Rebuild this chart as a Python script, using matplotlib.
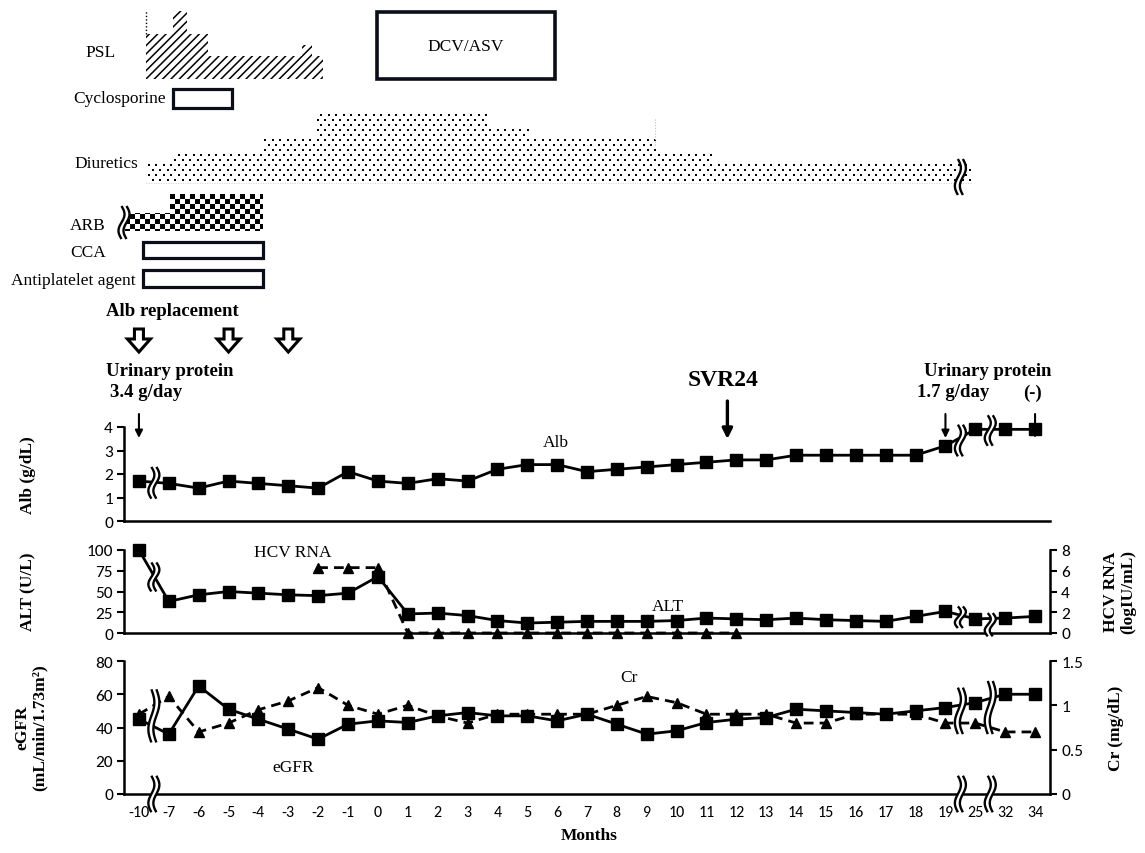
import numpy as np
import matplotlib
matplotlib.use("Agg")
import matplotlib.pyplot as plt
from matplotlib import font_manager
from matplotlib.patches import Polygon, Rectangle
from matplotlib.path import Path

# ------------------------------------------------------------------ data
month_labels = ['-10', '-7', '-6', '-5', '-4', '-3', '-2', '-1', '0',
                '1', '2', '3', '4', '5', '6', '7', '8', '9', '10',
                '11', '12', '13', '14', '15', '16', '17', '18', '19',
                '25', '32', '34']

alb = [1.7, 1.6, 1.4, 1.7, 1.6, 1.5, 1.4, 2.1, 1.7,
       1.6, 1.8, 1.7, 2.2, 2.4, 2.4, 2.1, 2.2, 2.3, 2.4,
       2.5, 2.6, 2.6, 2.8, 2.8, 2.8, 2.8, 2.8, 3.2,
       3.9, 3.9, 3.9]

alt = [100, 38, 46, 50, 48, 46, 45, 48, 68,
       23, 24, 21, 15, 12, 13, 14, 14, 14, 15,
       18, 17, 16, 18, 16, 15, 14, 20, 26,
       17, 18, 20]

hcv_months = ['-2', '-1', '0', '1', '2', '3', '4', '5', '6',
              '7', '8', '9', '10', '11', '12']
hcv_rna = [6.3, 6.3, 6.3, 0, 0, 0, 0, 0, 0, 0, 0, 0, 0, 0, 0]

egfr = [45, 36, 65, 51, 45, 39, 33, 42, 44,
        43, 47, 49, 47, 47, 44, 48, 42, 36, 38,
        43, 45, 46, 51, 50, 49, 48, 50, 52,
        55, 60, 60]

cr = [0.9, 1.1, 0.7, 0.8, 0.95, 1.05, 1.2, 1.0, 0.9,
      1.0, 0.88, 0.8, 0.9, 0.9, 0.9, 0.9, 1.0, 1.1, 1.03,
      0.9, 0.9, 0.9, 0.8, 0.8, 0.9, 0.9, 0.9, 0.8,
      0.8, 0.7, 0.7]

# treatment schedule, expressed on the month (category index) axis
psl_edges = [0.24, 1.15, 1.6, 2.3, 5.45, 5.8, 6.15]
psl_dose = [40, 60, 40, 20, 30, 20]          # mg/day
psl_pulse_dose = 60
cyclosporine_span = (1.14, 3.12)
diuretic_edges = [0.24, 1.14, 4.15, 5.93, 11.75, 13.09, 17.28, 19.22, 27.9]
diuretic_dose = [20, 40, 60, 100, 80, 60, 40, 20]
arb_edges = [-0.45, 1.04, 4.15]
arb_dose = [1, 2]
cca_span = (0.14, 4.15)
antiplatelet_span = (0.14, 4.15)
dcv_asv_span = (7.97, 13.93)
alb_replacement_months = ['-10', '-5', '-3']
urinary_protein_months = ['-10', '19', '34']
svr24_position = 19.7

# ------------------------------------------------------------------ fonts
installed = {f.name for f in font_manager.fontManager.ttflist}
SERIF = 'Liberation Serif'
NUM = 'Carlito' if 'Carlito' in installed else 'Lato'
NARROW = 'Liberation Sans Narrow' if 'Liberation Sans Narrow' in installed else NUM

# ------------------------------------------------------------------ layout
W, H, DPI = 1145, 854, 100
fig = plt.figure(figsize=(W / DPI, H / DPI), dpi=DPI)
fig.patch.set_facecolor('white')

X_LEFT, X_RIGHT = 124, 1050
n = len(month_labels)
x = np.arange(n)
XLIM = (-0.5, n - 0.5)
PX_PER_IDX = (X_RIGHT - X_LEFT) / n


def fx(px):
    return px / W


def fy(py):
    return 1 - py / H


def px2idx(px):
    return (px - X_LEFT) / PX_PER_IDX - 0.5


def add_panel(top, bottom):
    ax = fig.add_axes([fx(X_LEFT), fy(bottom), (X_RIGHT - X_LEFT) / W,
                       (bottom - top) / H])
    ax.patch.set_visible(False)
    return ax


ax_s = add_panel(0, 440)       # treatment schedule
ax_alb = add_panel(428, 522)
ax_alt = add_panel(551, 634)
ax_gfr = add_panel(662, 795)
ax_hcv = ax_alt.twinx()
ax_cr = ax_gfr.twinx()

for ax in (ax_s, ax_alb, ax_alt, ax_gfr, ax_hcv, ax_cr):
    ax.set_xlim(*XLIM)
ax_s.set_ylim(440, 0)
ax_s.axis('off')
ax_alb.set_ylim(0, 4)
ax_alt.set_ylim(0, 100)
ax_hcv.set_ylim(0, 8)
ax_gfr.set_ylim(0, 80)
ax_cr.set_ylim(0, 1.5)

SPINE_W = 1.8
for ax in (ax_alb, ax_alt, ax_gfr, ax_hcv, ax_cr):
    for side in ('top', 'left', 'right', 'bottom'):
        ax.spines[side].set_visible(False)
        ax.spines[side].set_linewidth(SPINE_W)
    ax.tick_params(axis='x', length=0)
    ax.tick_params(axis='y', direction='out', length=5, width=1.5,
                   labelsize=12.5, labelfontfamily=NUM, pad=3)

for ax in (ax_alb, ax_alt, ax_gfr):
    ax.spines['left'].set_visible(True)
    ax.spines['bottom'].set_visible(True)
for ax in (ax_hcv, ax_cr):
    ax.spines['right'].set_visible(True)

ax_alb.set_yticks([0, 1, 2, 3, 4])
ax_alt.set_yticks([0, 25, 50, 75, 100])
ax_hcv.set_yticks([0, 2, 4, 6, 8])
ax_gfr.set_yticks([0, 20, 40, 60, 80])
ax_cr.set_yticks([0, 0.5, 1.0, 1.5])
ax_cr.set_yticklabels(['0', '0.5', '1', '1.5'])

for ax in (ax_alb, ax_alt, ax_hcv, ax_cr):
    ax.set_xticks([])
ax_gfr.set_xticks(x)
ax_gfr.set_xticklabels(month_labels)
ax_gfr.tick_params(axis='x', labelsize=11.5, labelfontfamily=NARROW, pad=8)

# ------------------------------------------------------------------ series
LINE = dict(color='black', lw=2.0, clip_on=False, zorder=3)
DASH = (0, (3.5, 2.2))
ax_alb.plot(x, alb, marker='s', ms=8, **LINE)
ax_alt.plot(x, alt, marker='s', ms=8, **LINE)
hcv_x = [month_labels.index(m) for m in hcv_months]
ax_hcv.plot(hcv_x, hcv_rna, marker='^', ms=7.5, ls=DASH, **LINE)
ax_gfr.plot(x, egfr, marker='s', ms=8, **LINE)
ax_cr.plot(x, cr, marker='^', ms=7.5, ls=DASH, **LINE)

TXT = dict(family=SERIF, size=12.5, ha='center', va='center')
ax_alb.text(13.95, 3.35, 'Alb', **TXT)
ax_alt.text(5.15, 97, 'HCV RNA', **TXT)
ax_alt.text(17.7, 33, 'ALT', **TXT)
ax_cr.text(16.4, 1.32, 'Cr', **TXT)
ax_gfr.text(5.15, 16, 'eGFR', **TXT)


# ------------------------------------------------------------------ break marks
def squiggle(src, xc, y0, y1, dst=None, gap=5.0, amp=3.0, lw=1.7):
    """Double wavy break mark centred on xc, running from y0 (lower) to y1."""
    dst = dst or src
    X0, Y0 = src.transData.transform((xc, y0))
    _, Y1 = src.transData.transform((xc, y1))
    t = np.linspace(0, 1, 80)
    Y = Y0 + (Y1 - Y0) * t
    bend = -amp * np.sin(2 * np.pi * t)
    inv = dst.transData.inverted()
    left = inv.transform(np.column_stack([X0 - gap / 2 + bend, Y]))
    right = inv.transform(np.column_stack([X0 + gap / 2 + bend, Y]))
    band = np.vstack([left, right[::-1]])
    dst.add_patch(Polygon(band, closed=True, fc='white', ec='none',
                          zorder=8, clip_on=False))
    for edge in (left, right):
        dst.plot(edge[:, 0], edge[:, 1], color='black', lw=lw, zorder=9,
                 clip_on=False, solid_capstyle='butt')


for xc, a, b in [(0.5, 0.95, 2.3), (27.5, 2.75, 4.1), (28.5, 3.2, 4.5)]:
    squiggle(ax_alb, xc, a, b)
for xc, a, b in [(0.5, 50, 85), (27.5, 6, 32), (28.5, -4, 24)]:
    squiggle(ax_alt, xc, a, b, dst=ax_hcv)
for xc, a, b in [(0.5, 31, 63), (27.5, 36, 64), (28.5, 36, 68),
                 (0.5, -11, 11), (27.5, -11, 11), (28.5, -11, 11)]:
    squiggle(ax_gfr, xc, a, b, dst=ax_cr)

# ------------------------------------------------------------------ schedule
LBL = dict(family=SERIF, size=12.5, va='center', clip_on=False)
BOX = dict(fc='white', ec='#0b0d18', lw=2.3, zorder=3)

# prednisolone (hatched step profile)
PSL_BASE, PSL_SCALE = 80, 1.13
verts = [(psl_edges[0], PSL_BASE)]
for a, b, d in zip(psl_edges[:-1], psl_edges[1:], psl_dose):
    top = PSL_BASE - PSL_SCALE * d
    verts += [(a, top), (b, top)]
verts.append((psl_edges[-1], PSL_BASE))
plt.rcParams['hatch.linewidth'] = 1.1
ax_s.add_patch(Polygon(verts, closed=True, fc='white', ec='black', lw=0,
                       hatch='////', zorder=2))
ax_s.plot([psl_edges[0]] * 2,
          [PSL_BASE - PSL_SCALE * psl_dose[0], PSL_BASE - PSL_SCALE * psl_pulse_dose],
          color='black', lw=1.0, ls=(0, (1, 1.5)))
ax_s.text(px2idx(116), 53, 'PSL', ha='right', **LBL)

# DCV/ASV
ax_s.add_patch(Rectangle((dcv_asv_span[0], 13), dcv_asv_span[1] - dcv_asv_span[0],
                         67, fc='white', ec='#0b0d18', lw=2.6, zorder=3))
ax_s.text(np.mean(dcv_asv_span), 47, 'DCV/ASV', ha='center', zorder=4, **LBL)

# cyclosporine
ax_s.add_patch(Rectangle((cyclosporine_span[0], 90),
                         cyclosporine_span[1] - cyclosporine_span[0], 19, **BOX))
ax_s.text(px2idx(166), 99, 'Cyclosporine', ha='right', **LBL)

# diuretics (stippled step profile)
DIU_BASE = 183


def diuretic_height(d):
    return 20 + (d - 20) * 0.625


dverts = [(diuretic_edges[0], DIU_BASE)]
for a, b, d in zip(diuretic_edges[:-1], diuretic_edges[1:], diuretic_dose):
    top = DIU_BASE - diuretic_height(d)
    dverts += [(a, top), (b, top)]
dverts.append((diuretic_edges[-1], DIU_BASE))
dpath = Path(dverts + [dverts[0]], closed=True)
dots = []
for k, yy in enumerate(np.arange(DIU_BASE - 2.5, 100, -5.0)):
    for xx in np.arange(130 + (k % 2) * 3.75, 1000, 7.5):
        dots.append((px2idx(xx), yy))
dots = np.array(dots)
inside = dpath.contains_points(dots)
ax_s.scatter(dots[inside, 0], dots[inside, 1], s=2.0, marker='s', c='black',
             linewidths=0, zorder=2)
ax_s.plot([diuretic_edges[6]] * 2, [120, 147], color='#bdbdbd', lw=0.8,
          ls=(0, (1, 1.5)))
ax_s.plot([diuretic_edges[0], diuretic_edges[-1]], [DIU_BASE + 1] * 2,
          color='#cfcfcf', lw=0.7, ls=(0, (1, 1.5)))
ax_s.text(px2idx(138), 164, 'Diuretics', ha='right', **LBL)

# ARB (checkerboard step profile)
ARB_BASE, ARB_STEP = 232, 18.5
averts = [(arb_edges[0], ARB_BASE)]
for a, b, d in zip(arb_edges[:-1], arb_edges[1:], arb_dose):
    top = ARB_BASE - ARB_STEP * d
    averts += [(a, top), (b, top)]
averts.append((arb_edges[-1], ARB_BASE))
arb_poly = Polygon(averts, closed=True, fc='none', ec='none')
ax_s.add_patch(arb_poly)
arb_top = ARB_BASE - ARB_STEP * max(arb_dose)
cell = 5.0
nxc = int(np.ceil((arb_edges[-1] - arb_edges[0]) * PX_PER_IDX / cell))
nyc = int(np.ceil((ARB_BASE - arb_top) / cell))
checker = np.indices((nyc, nxc)).sum(axis=0) % 2
im = ax_s.imshow(checker, cmap='gray_r', vmin=0, vmax=1, interpolation='nearest',
                 aspect='auto', zorder=2,
                 extent=(arb_edges[0], arb_edges[0] + nxc * cell / PX_PER_IDX,
                         arb_top + nyc * cell, arb_top))
im.set_clip_path(arb_poly)
ax_s.text(px2idx(106), 226, 'ARB', ha='right', **LBL)

# CCA and antiplatelet agent
ax_s.add_patch(Rectangle((cca_span[0], 243), cca_span[1] - cca_span[0], 16, **BOX))
ax_s.text(px2idx(106), 253, 'CCA', ha='right', **LBL)
ax_s.add_patch(Rectangle((antiplatelet_span[0], 271),
                         antiplatelet_span[1] - antiplatelet_span[0], 17, **BOX))
ax_s.text(px2idx(136), 281, 'Antiplatelet agent', ha='right', **LBL)

ax_s.set_xlim(*XLIM)
ax_s.set_ylim(440, 0)

# albumin replacement (hollow arrows)
BOLD = dict(family=SERIF, weight='bold', va='center', clip_on=False)
ax_s.text(px2idx(106), 312, 'Alb replacement', ha='left', size=13.5, **BOLD)
shaft, head = 4.5 / PX_PER_IDX, 11.5 / PX_PER_IDX
for m in alb_replacement_months:
    c = month_labels.index(m)
    arrow = [(c - shaft, 330), (c + shaft, 330), (c + shaft, 340), (c + head, 340),
             (c, 353), (c - head, 340), (c - shaft, 340)]
    ax_s.add_patch(Polygon(arrow, closed=True, fc='white', ec='black', lw=2.2,
                           joinstyle='miter', zorder=3))

# urinary protein
ax_s.text(px2idx(106), 372, 'Urinary protein', ha='left', size=13.5, **BOLD)
ax_s.text(px2idx(110), 393, '3.4 g/day', ha='left', size=13.5, **BOLD)
ax_s.text(px2idx(988), 372, 'Urinary protein', ha='center', size=13.5, **BOLD)
ax_s.text(px2idx(953), 393, '1.7 g/day', ha='center', size=13.5, **BOLD)
ax_s.text(px2idx(1033), 393, '(-)', ha='center', size=13.5, **BOLD)
for m in urinary_protein_months:
    c = month_labels.index(m)
    ax_s.annotate('', xy=(c, 439), xytext=(c, 415), annotation_clip=False,
                  arrowprops=dict(arrowstyle='-|>', color='black', lw=1.5,
                                  mutation_scale=11, shrinkA=0, shrinkB=0))

# SVR24
ax_s.text(svr24_position - 0.15, 381, 'SVR24', ha='center', size=17, **BOLD)
ax_s.annotate('', xy=(svr24_position, 440), xytext=(svr24_position, 402),
              annotation_clip=False,
              arrowprops=dict(arrowstyle='-|>', color='black', lw=2.4,
                              mutation_scale=15, shrinkA=0, shrinkB=0))

# schedule break marks
squiggle(ax_s, 27.5, 196, 160)
squiggle(ax_s, -0.5, 240, 207)

# ------------------------------------------------------------------ axis titles
YL = dict(family=SERIF, weight='bold', size=12.5, rotation=90,
          ha='center', va='center', linespacing=1.1)
fig.text(fx(28), fy(475), 'Alb (g/dL)', **YL)
fig.text(fx(28), fy(592), 'ALT (U/L)', **YL)
fig.text(fx(31), fy(728), 'eGFR\n(mL/min/1.73m²)', **YL)
fig.text(fx(1120), fy(592), 'HCV RNA\n(logIU/mL)', **YL)
fig.text(fx(1116), fy(728), 'Cr (mg/dL)', **YL)
fig.text(fx(589), fy(836), 'Months', family=SERIF, weight='bold', size=12.5,
         ha='center', va='center')

fig.savefig('out.png', dpi=DPI, facecolor='white')
